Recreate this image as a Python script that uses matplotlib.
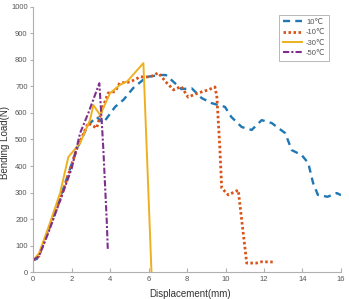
import matplotlib
matplotlib.use("Agg")
import matplotlib.pyplot as plt

# displacement (mm) / bending load (N)
X_10 = [0, 0.2, 0.5, 1.0, 1.5, 2.27, 2.86, 3.3, 3.64, 4.26, 4.7, 5.2, 5.9, 6.6, 6.9,
        7.3, 7.7, 8.24, 8.76, 9.28, 9.97, 10.3, 10.84, 11.36, 11.88, 12.4, 13.1,
        13.44, 13.96, 14.3, 14.55, 14.8, 15.3, 15.78, 16.0]
Y_10 = [45, 50, 100, 200, 300, 465, 555, 585, 562, 623, 650, 694, 736, 743, 743,
        717, 690, 693, 656, 637, 623, 585, 547, 536, 573, 562, 524,
        460, 441, 411, 336, 291, 284, 298, 290]

X_M10 = [0, 0.3, 0.7, 1.06, 1.4, 2.27, 2.86, 3.3, 3.57, 3.9, 4.26, 4.5, 5.04, 5.56,
         6.08, 6.5, 6.95, 7.3, 7.7, 8.05, 8.57, 9.1, 9.45, 9.55, 9.7, 9.8, 10.14,
         10.66, 11.1, 11.6, 11.88, 12.5]
Y_M10 = [45, 60, 140, 209, 272, 465, 562, 543, 611, 675, 681, 713, 717, 736,
         736, 751, 713, 687, 700, 660, 675, 687, 698, 660, 473, 317, 291,
         309, 34, 34, 39, 38]

X_M30 = [0, 0.3, 0.8, 1.4, 1.83, 2.44, 2.96, 3.13, 3.48, 4.0, 4.52, 4.9, 5.73, 6.15]
Y_M30 = [45, 70, 170, 298, 434, 487, 574, 630, 592, 675, 706, 720, 788, 0]

X_M50 = [0, 0.3, 0.8, 1.4, 2.0, 2.44, 2.87, 3.44, 3.57, 3.65, 3.83, 3.88]
Y_M50 = [45, 60, 150, 270, 390, 524, 600, 712, 562, 460, 185, 83]

LABELS = ["10\u2103", "-10\u2103", "-30\u2103", "-50\u2103"]
COLORS = ["#1f77b4", "#D95319", "#EDB120", "#7E2F8E"]

plt.rcParams.update({
    "font.family": ["Liberation Sans", "DejaVu Sans"],
    "font.size": 6,
})

fig = plt.figure(figsize=(3.49, 2.99), dpi=100)
ax = fig.add_axes([0.095, 0.09, 0.882, 0.887])

ax.plot(X_10, Y_10, color=COLORS[0], linestyle=(0, (3, 2.2)), linewidth=1.7, label=LABELS[0])
ax.plot(X_M10, Y_M10, color=COLORS[1], linestyle=(0, (0.9, 0.9)), linewidth=2.0, label=LABELS[1])
ax.plot(X_M30, Y_M30, color=COLORS[2], linestyle="-", linewidth=1.4, label=LABELS[2])
ax.plot(X_M50, Y_M50, color=COLORS[3], linestyle=(0, (3, 1, 1, 1)), linewidth=1.5, label=LABELS[3])

ax.set_xlim(0, 16)
ax.set_ylim(0, 1000)
ax.set_xticks(range(0, 17, 2))
ax.set_yticks(range(0, 1001, 100))

for side in ["top", "right"]:
    ax.spines[side].set_visible(False)
for side in ["left", "bottom"]:
    ax.spines[side].set_color("#b0b0b0")
    ax.spines[side].set_linewidth(0.8)
ax.tick_params(axis="x", direction="in", length=3, color="#b0b0b0", labelcolor="#555555", labelsize=5.5, pad=3)
ax.tick_params(axis="y", direction="out", length=2, color="#b0b0b0", labelcolor="#555555", labelsize=5.5, pad=2)

ax.set_xlabel("Displacement(mm)", fontsize=7, color="#333333")
ax.xaxis.set_label_coords(0.51, -0.062)
ax.set_ylabel("Bending Load(N)", fontsize=7, color="#333333")
ax.yaxis.set_label_coords(-0.075, 0.49)

leg = ax.legend(loc="upper right", bbox_to_anchor=(0.975, 0.985), fontsize=5.5,
                handlelength=2.4, handletextpad=0.6, labelspacing=0.4,
                borderpad=0.5, fancybox=False, frameon=True)
leg.get_frame().set_edgecolor("#999999")
leg.get_frame().set_linewidth(0.6)
for t in leg.get_texts():
    t.set_color("#555555")

fig.savefig("out.png", dpi=100)
